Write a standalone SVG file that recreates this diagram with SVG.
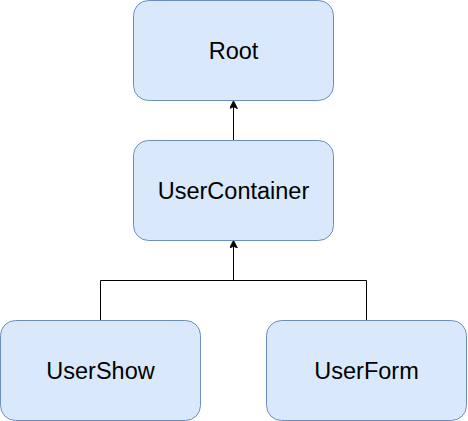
<svg xmlns="http://www.w3.org/2000/svg" width="468" height="421" viewBox="0 0 468 421">
<style>
.node rect{fill:#dae8fc;stroke:#6c8ebf;stroke-width:1}
.node text{font-family:"Liberation Sans",Arial,sans-serif;font-size:23.5px;fill:#000;text-anchor:middle}
.edge{fill:none;stroke:#000;stroke-width:1}
</style>
<defs>
<marker id="arr" viewBox="0 0 10 10" refX="9" refY="5" markerWidth="8" markerHeight="8" markerUnits="userSpaceOnUse" orient="auto">
<path d="M0,0 L10,5 L0,10 L2.5,5 Z" fill="#000" stroke="#000"/>
</marker>
</defs>
<rect width="468" height="421" fill="#fff"/>
<g id="connectors">
<path class="edge" d="M233.5,140 L233.5,101.5" marker-end="url(#arr)"/>
<path class="edge" d="M100.5,320.5 L100.5,280.5 L366.5,280.5 L366.5,320.5"/>
<path class="edge" d="M233.5,280.5 L233.5,241" marker-end="url(#arr)"/>
</g>
<g id="root" class="node"><rect x="133.5" y="0.5" width="200" height="100" rx="15" ry="15"/><text x="233.5" y="58.5">Root</text></g>
<g id="usercontainer" class="node"><rect x="133.5" y="140.5" width="200" height="100" rx="15" ry="15"/><text x="233.5" y="198.5">UserContainer</text></g>
<g id="usershow" class="node"><rect x="0.5" y="320.5" width="200" height="100" rx="15" ry="15"/><text x="100.5" y="378.5">UserShow</text></g>
<g id="userform" class="node"><rect x="266.5" y="320.5" width="200" height="100" rx="15" ry="15"/><text x="366.5" y="378.5">UserForm</text></g>
</svg>
